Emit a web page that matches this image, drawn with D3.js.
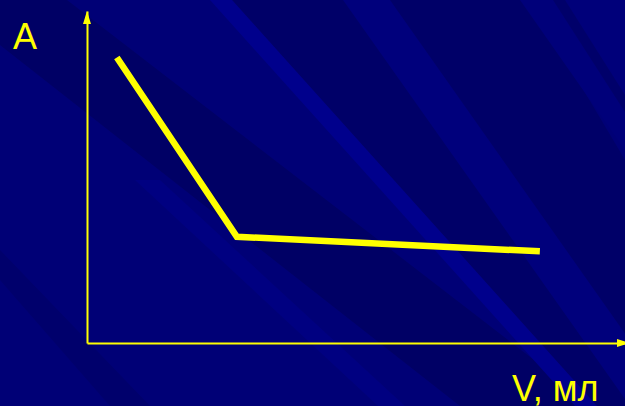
<!DOCTYPE html>
<html>
<head>
<meta charset="utf-8">
<script src="https://cdn.jsdelivr.net/npm/d3@7"></script>
<style>
  html, body { margin: 0; padding: 0; background: #000076; overflow: hidden; }
  svg { display: block; }
</style>
</head>
<body>
<svg id="chart" width="625" height="406"></svg>
<script>
// ---- data ----
const volume = [0.55, 2.76, 8.34];      // V, мл
const absorbance = [8.6, 3.2, 2.76];    // A
const xLabel = "V, мл";
const yLabel = "A";

const W = 625, H = 406;
const svg = d3.select("#chart");

// ---- background (decorative diagonal streaks) ----
const bg = svg.append("g");
bg.append("rect").attr("width", W).attr("height", H).attr("fill", "#000076");
const streaks = [
  {c: "#000065", p: [[0,0],[67,0],[560,380],[600,406],[460,406],[0,45]]},
  {c: "#000068", p: [[232,0],[530,0],[625,160],[625,406],[597,406]]},
  {c: "#00007c", p: [[343,0],[390,0],[676,406],[630,406]]},
  {c: "#00007a", p: [[520,0],[625,0],[625,150]]},
  {c: "#00006a", p: [[553,0],[565,0],[625,95],[625,112]]},
  {c: "#00008c", p: [[210,0],[232,0],[597,406],[575,406]]},
  {c: "#000081", p: [[135,180],[160,180],[405,406],[378,406]]},
  {c: "#00006c", p: [[0,250],[0,280],[110,406],[150,406]]}
];
bg.selectAll("path").data(streaks).join("path")
  .attr("d", d => d3.line()(d.p) + "Z")
  .attr("fill", d => d.c);

// ---- scales ----
const x = d3.scaleLinear().domain([0, 10]).range([87, 630]);
const y = d3.scaleLinear().domain([0, 10]).range([343, 11]);
const yellow = "#ffff00";

// ---- axes ----
const xAxis = svg.append("g").attr("transform", `translate(0,${y(0)})`)
  .call(d3.axisBottom(x).ticks(0).tickSizeOuter(0));
const yAxis = svg.append("g").attr("transform", `translate(${x(0)},0)`)
  .call(d3.axisLeft(y).ticks(0).tickSizeOuter(0));
[xAxis, yAxis].forEach(a => {
  a.select(".domain").attr("stroke", yellow).attr("stroke-width", 2);
  a.selectAll("text").remove();
});

// arrowheads at axis ends
const x1 = x.range()[1];
const y1 = y.range()[1];
const ax = x(0), ay = y(0);
svg.append("path")
  .attr("d", `M${x1},${ay}L${x1 - 13},${ay - 4}L${x1 - 13},${ay + 4}Z`)
  .attr("fill", yellow);
svg.append("path")
  .attr("d", `M${ax},${y1}L${ax - 4},${y1 + 13}L${ax + 4},${y1 + 13}Z`)
  .attr("fill", yellow);

// ---- data line ----
const pts = volume.map((v, i) => [v, absorbance[i]]);
svg.append("path")
  .datum(pts)
  .attr("d", d3.line().x(d => x(d[0])).y(d => y(d[1])))
  .attr("fill", "none")
  .attr("stroke", yellow)
  .attr("stroke-width", 6.5)
  .attr("stroke-linejoin", "miter")
  .attr("stroke-linecap", "butt");

// ---- labels ----
svg.append("text").attr("x", 13).attr("y", 49)
  .attr("font-family", "Liberation Sans, Arial, sans-serif")
  .attr("font-size", 36).attr("fill", yellow).text(yLabel);
svg.append("text").attr("x", 512).attr("y", 401)
  .attr("font-family", "Liberation Sans, Arial, sans-serif")
  .attr("font-size", 36).attr("fill", yellow).text(xLabel);
</script>
</body>
</html>
